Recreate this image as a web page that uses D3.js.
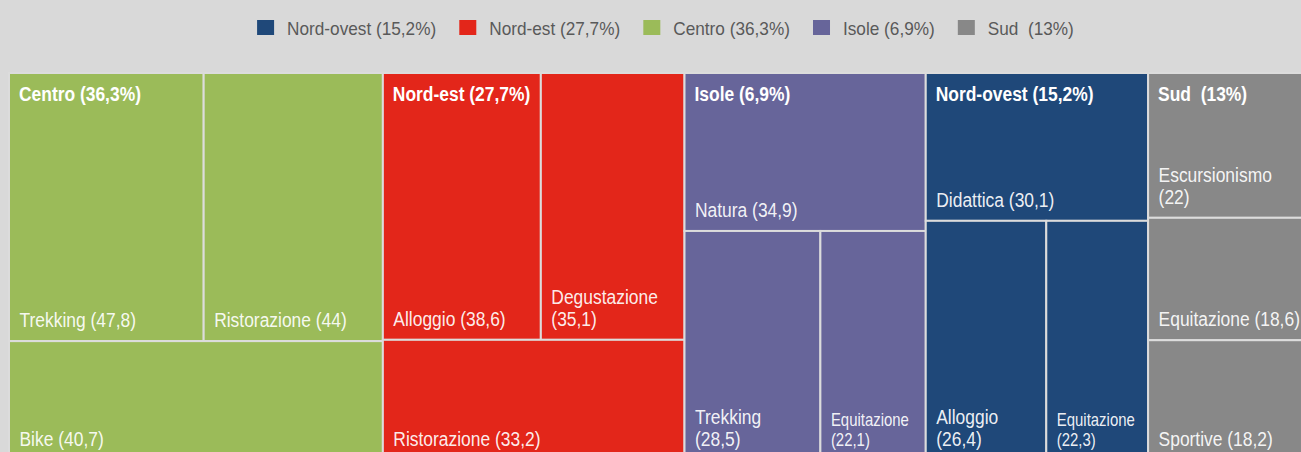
<!DOCTYPE html>
<html>
<head>
<meta charset="utf-8">
<script src="https://cdn.jsdelivr.net/npm/d3@7"></script>
<style>
  html, body { margin: 0; padding: 0; background: #d9d9d9; overflow: hidden; }
  svg { display: block; font-family: "Liberation Sans", Arial, sans-serif; }
  text { white-space: pre; }
</style>
</head>
<body>
<svg id="chart" width="1301" height="452"></svg>
<script>

// regions, in legend order
const regions = ['Nord-ovest', 'Nord-est', 'Centro', 'Isole', 'Sud']
const regionLabels = ['Nord-ovest (15,2%)', 'Nord-est (27,7%)', 'Centro (36,3%)', 'Isole (6,9%)', 'Sud  (13%)']
const regionColors = ['#1f4879', '#e3261a', '#9bbb59', '#67659a', '#888888']

// activities and values for each region
const nordOvestNames = ['Didattica', 'Alloggio', 'Equitazione']
const nordOvestValues = [30.1, 26.4, 22.3]
const nordEstNames = ['Alloggio', 'Degustazione', 'Ristorazione']
const nordEstValues = [38.6, 35.1, 33.2]
const centroNames = ['Trekking', 'Ristorazione', 'Bike']
const centroValues = [47.8, 44, 40.7]
const isoleNames = ['Natura', 'Trekking', 'Equitazione']
const isoleValues = [34.9, 28.5, 22.1]
const sudNames = ['Escursionismo', 'Equitazione', 'Sportive']
const sudValues = [22, 18.6, 18.2]

const childNames = [nordOvestNames, nordEstNames, centroNames, isoleNames, sudNames]
const childValues = [nordOvestValues, nordEstValues, centroValues, isoleValues, sudValues]

const fmt = v => String(v).replace('.', ',')
const sx = 0.83   // the labels are drawn narrow

const svg = d3.select('#chart')
const color = d3.scaleOrdinal().domain(regions).range(regionColors)

// build the hierarchy the treemap needs
const tree = {
    name: 'root',
    children: regions.map((r, i) => ({
        name: r,
        label: regionLabels[i],
        children: childNames[i].map((n, j) => ({ name: n, value: childValues[i][j] }))
    }))
}

const root = d3.hierarchy(tree)
    .sum(d => d.value || 0)
    .sort((a, b) => b.value - a.value)

// regions side by side, activities squarified inside
const squarify = d3.treemapSquarify.ratio(1.18)
function tile(node, x0, y0, x1, y1) {
    if (node.depth === 0) d3.treemapDice(node, x0, y0, x1, y1)
    else squarify(node, x0, y0, x1, y1)
}

d3.treemap()
    .tile(tile)
    .size([1305, 387])
    .round(false)(root)

const g = svg.append('g').attr('transform', 'translate(9,73)')

const leaves = g.selectAll('g.leaf')
    .data(root.leaves())
    .join('g')
    .attr('class', 'leaf')

leaves.append('rect')
    .attr('x', d => d.x0)
    .attr('y', d => d.y0)
    .attr('width', d => d.x1 - d.x0)
    .attr('height', d => d.y1 - d.y0)
    .attr('fill', d => color(d.parent.data.name))
    .attr('stroke', '#dcdcdc')
    .attr('stroke-width', 2)

// label at the bottom left of each cell, wrapped or made smaller when it is too wide
leaves.each(function(d) {
    const cell = d3.select(this)
    const avail = (d.x1 - d.x0) - 22
    let size = 21
    const full = `${d.data.name} (${fmt(d.data.value)})`

    const t = cell.append('text')
        .attr('fill', '#fff')
        .attr('fill-opacity', 0.93)
        .attr('font-size', size)
        .text(full)

    const bottom = d.y1 - 14
    if (t.node().getComputedTextLength() * sx <= avail) {
        t.attr('transform', `translate(${d.x0 + 10.5},${bottom}) scale(${sx},1)`)
        return
    }

    t.text(d.data.name)
    let w = t.node().getComputedTextLength() * sx
    if (w > avail) size = 18
    const lineH = 0.6 * size + 9.5
    t.attr('font-size', size)
        .attr('transform', `translate(${d.x0 + 10.5},${bottom - lineH}) scale(${sx},1)`)

    cell.append('text')
        .attr('fill', '#fff')
        .attr('fill-opacity', 0.93)
        .attr('font-size', size)
        .attr('transform', `translate(${d.x0 + 10.5},${bottom}) scale(${sx},1)`)
        .text(`(${fmt(d.data.value)})`)
})

// region titles, top left of each region
g.selectAll('text.region')
    .data(root.children)
    .join('text')
    .attr('class', 'region')
    .attr('transform', d => `translate(${d.x0 + 10},${d.y0 + 27.5}) scale(${sx},1)`)
    .attr('fill', '#fff')
    .attr('font-size', 21)
    .attr('font-weight', 'bold')
    .text(d => d.data.label)


/* Legend */
const legend = svg.append('g')
const items = legend.selectAll('g')
    .data(regions)
    .join('g')

items.append('rect')
    .attr('width', 17)
    .attr('height', 15)
    .attr('y', 20)
    .attr('fill', d => color(d))

items.append('text')
    .attr('y', 35.5)
    .attr('font-size', 18)
    .attr('fill', '#595959')
    .text((d, i) => regionLabels[i])

// lay the legend out from the text widths, centred
const lsx = 0.956
let widths = []
items.select('text').each(function() {
    widths.push(this.getComputedTextLength() * lsx)
})
items.select('text').attr('transform', `scale(${lsx},1)`).attr('x', 30 / lsx)
const total = d3.sum(widths, w => 30 + w) + 23 * (widths.length - 1)
let xpos = 665.5 - total / 2
items.attr('transform', (d, i) => {
    const x = xpos
    xpos += 30 + widths[i] + 23
    return `translate(${x},0)`
})

</script>
</body>
</html>
